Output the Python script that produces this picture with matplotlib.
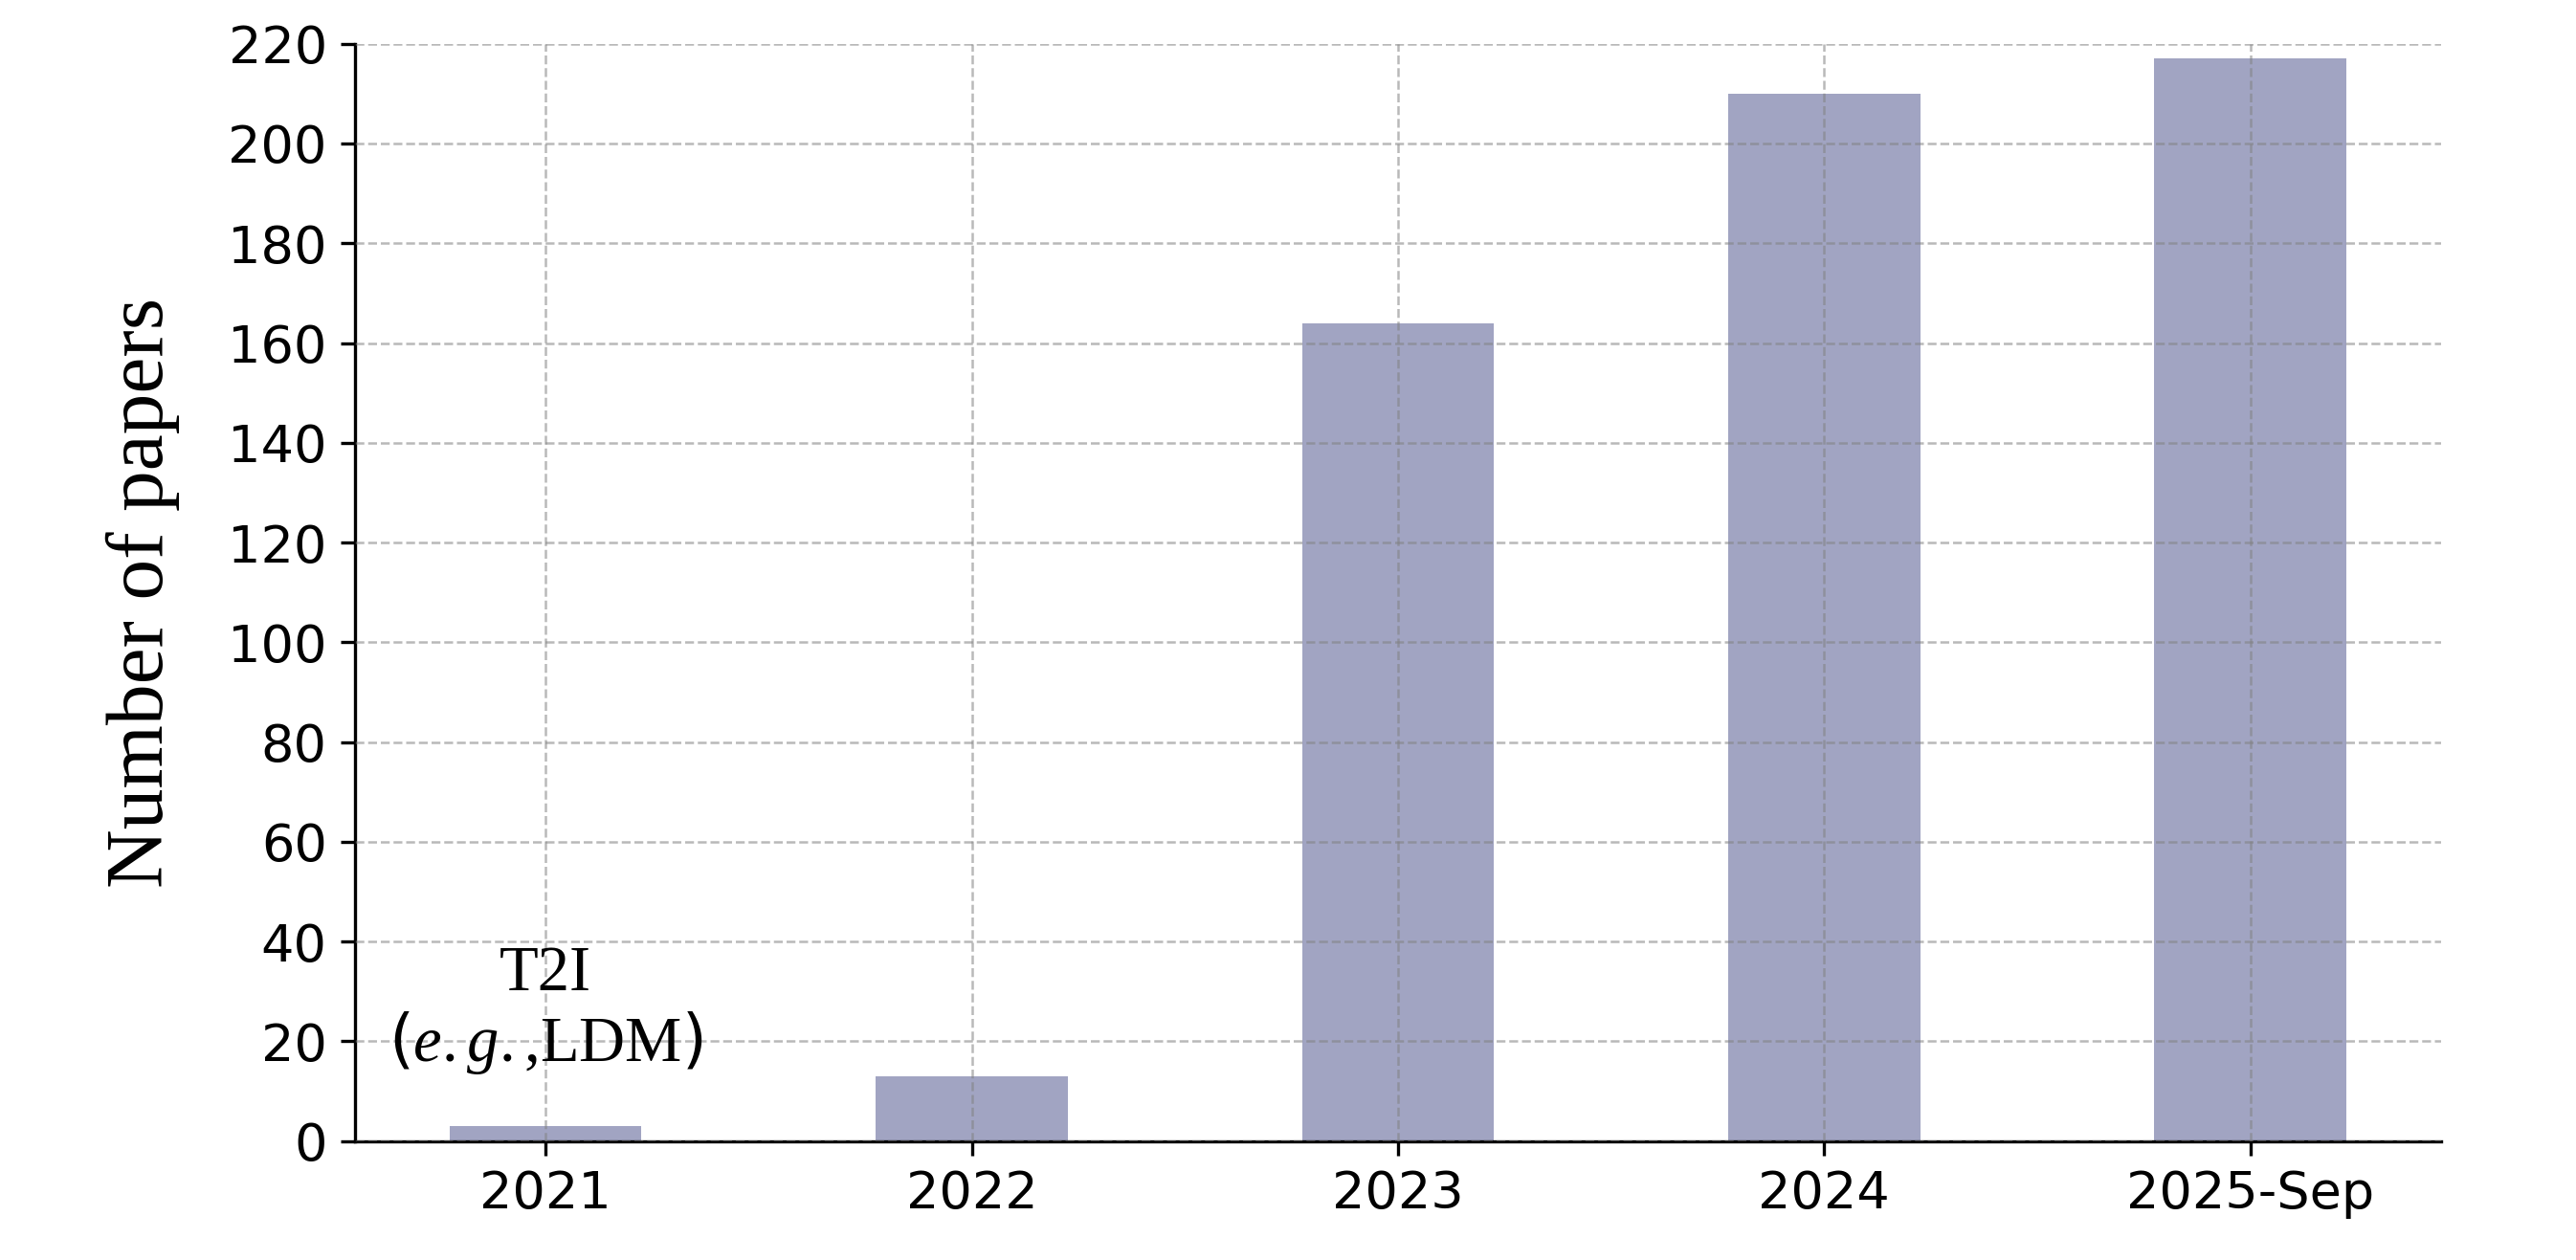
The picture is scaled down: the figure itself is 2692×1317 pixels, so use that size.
import matplotlib.pyplot as plt
import numpy as np

plt.rcParams['mathtext.fontset'] = 'custom'
plt.rcParams['mathtext.rm'] = 'Liberation Serif'
plt.rcParams['mathtext.it'] = 'Liberation Serif:italic'
plt.rcParams['mathtext.sf'] = 'DejaVu Sans'

years = ['2021', '2022', '2023', '2024', '2025-Sep']
num_papers = [3, 13, 164, 210, 217]
y_ticks = list(range(0, 221, 20))

bar_color = '#a1a4c2'

if __name__ == "__main__":
    fig = plt.figure(figsize=(2692 / 300, 1317 / 300), dpi=300)
    ax = fig.add_axes([0.1378, 0.0944, 0.8098, 0.8709])

    x = np.arange(len(years))
    ax.bar(x, num_papers, width=0.45, color=bar_color)

    ax.set_xticks(x)
    ax.set_xticklabels(years, fontsize=13)
    ax.set_yticks(y_ticks)
    ax.tick_params(axis='y', labelsize=13)
    ax.set_ylim(0, 220)

    ax.set_ylabel("Number of papers", family='Liberation Serif', fontsize=20.5, labelpad=12)

    # annotate the first bar
    ax.text(x[0], num_papers[0] + 10, "T2I\n" + r"$\mathsf{(}\mathit{e.g.}$,LDM$\mathsf{)}$",
            ha='center', va='bottom', family='Liberation Serif', fontsize=16,
            linespacing=1.1)

    ax.set_axisbelow(False)
    ax.grid(True, linestyle='--', color='gray', linewidth=0.6, alpha=0.55)

    ax.spines['top'].set_visible(False)
    ax.spines['right'].set_visible(False)

    plt.savefig('out.png', dpi=300)
    plt.close()
